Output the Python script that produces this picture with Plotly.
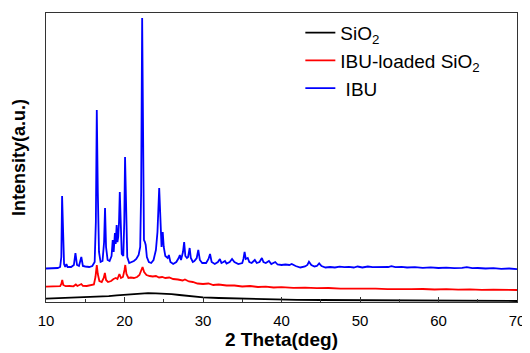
import plotly.graph_objects as go

# --- data (2 theta in degrees, intensity in arbitrary units) ---
ibu_xy = [
    (10.0, 33.5), (10.5, 33.8), (11.0, 33.4), (11.5, 34), (11.8, 35), (11.95, 45), (12.05, 106),
    (12.15, 70), (12.3, 38), (12.45, 35), (12.6, 38), (12.75, 35), (13.2, 35), (13.55, 37),
    (13.75, 49), (13.95, 37), (14.2, 36), (14.5, 45), (14.7, 36), (15.0, 35.5), (15.5, 35),
    (15.9, 36), (16.2, 40), (16.35, 80), (16.47, 192), (16.6, 110), (16.75, 50), (16.95, 40),
    (17.2, 41), (17.4, 60), (17.52, 94), (17.65, 55), (17.85, 42), (18.1, 41), (18.35, 46),
    (18.5, 62), (18.62, 50), (18.78, 69), (18.88, 58), (19.0, 77), (19.1, 60), (19.2, 65),
    (19.3, 80), (19.4, 110), (19.52, 70), (19.65, 48), (19.85, 46), (19.97, 80), (20.07, 145),
    (20.2, 75), (20.35, 45), (20.6, 39), (20.9, 40), (21.2, 41), (21.5, 43), (21.8, 47),
    (22.0, 55), (22.12, 110), (22.25, 284), (22.37, 140), (22.48, 62), (22.6, 60), (22.7, 57),
    (22.85, 45), (23.1, 40), (23.4, 39), (23.7, 42), (24.0, 52), (24.2, 70), (24.42, 114),
    (24.58, 75), (24.72, 55), (24.87, 70), (25.0, 55), (25.2, 46), (25.5, 44), (25.65, 47),
    (25.85, 40), (26.2, 38), (26.6, 40), (26.9, 44), (27.05, 47), (27.2, 42), (27.45, 50),
    (27.6, 60), (27.75, 46), (27.95, 44), (28.1, 45), (28.3, 54), (28.45, 44), (28.7, 40),
    (28.9, 41), (29.2, 44), (29.4, 52), (29.6, 42), (29.9, 39), (30.4, 39), (30.7, 43),
    (30.9, 48), (31.1, 40), (31.5, 38), (31.9, 40), (32.15, 43), (32.35, 39), (32.6, 40),
    (32.8, 41), (33.0, 38.5), (33.4, 40), (33.7, 43), (34.0, 40), (34.5, 38), (35.0, 39),
    (35.15, 43), (35.3, 50), (35.45, 43), (35.7, 44), (35.9, 40), (36.2, 39), (36.6, 42),
    (36.85, 39), (37.2, 40), (37.5, 44), (37.7, 40), (38.0, 39), (38.4, 41), (38.7, 38),
    (39.2, 40), (39.5, 37.5), (40.0, 37), (40.5, 37.5), (41.0, 37), (41.3, 38), (41.8, 36),
    (42.4, 34.5), (43.0, 35.5), (43.3, 37), (43.5, 40.3), (43.8, 37), (44.2, 35.5), (44.5, 36),
    (44.8, 38.7), (45.1, 36), (45.6, 34.5), (46.2, 35), (46.8, 34.5), (47.4, 35.3), (48.0, 34.8),
    (48.6, 35.2), (49.2, 34.5), (49.7, 35.5), (50.3, 34.5), (51.0, 35.5), (51.6, 34.8),
    (52.3, 35), (53.0, 34.5), (53.6, 35), (54.0, 35.8), (54.5, 34.8), (55.3, 35.2), (56.0, 34.5),
    (57.0, 34.8), (58.0, 34.2), (59.0, 34.6), (60.0, 34), (61.0, 34.3), (62.0, 33.8), (63.0, 34.2),
    (63.6, 34.8), (64.3, 33.8), (65.0, 34), (66.0, 33.5), (67.0, 33.8), (68.0, 33.2), (69.0, 33.5),
    (70.0, 32.8),
]

loaded_xy = [
    (10.0, 15.3), (10.6, 15.6), (11.2, 15.2), (11.8, 15.8), (11.95, 18), (12.07, 22), (12.2, 17),
    (12.5, 15.8), (13.0, 16), (13.5, 15.7), (13.8, 17.5), (14.0, 16), (14.5, 18), (14.7, 16.2),
    (15.2, 16), (15.7, 16.5), (16.1, 17.5), (16.3, 25), (16.47, 37), (16.6, 28), (16.8, 21),
    (17.1, 20), (17.35, 24), (17.5, 29), (17.65, 22), (17.9, 20), (18.3, 21), (18.6, 23),
    (18.9, 24), (19.1, 23), (19.35, 28), (19.55, 24), (19.8, 25), (20.0, 32), (20.1, 37),
    (20.25, 28), (20.5, 24), (20.8, 24.5), (21.2, 24), (21.6, 25), (21.9, 27), (22.15, 32),
    (22.3, 35), (22.5, 30), (22.8, 27), (23.2, 26), (23.6, 25.5), (24.0, 26), (24.4, 24.5),
    (24.8, 25), (25.2, 24), (25.7, 24.5), (26.2, 23), (26.8, 22.5), (27.4, 21.5), (27.7, 22.5),
    (28.2, 20.5), (28.7, 20), (29.3, 18.5), (30.0, 18), (30.7, 18.5), (31.3, 17), (32.0, 17.5),
    (33.0, 16.5), (34.0, 16.5), (35.0, 15.5), (36.0, 16), (37.0, 15), (38.0, 15.3), (39.0, 14.5),
    (40.0, 14.8), (41.5, 14.2), (43.0, 14.4), (44.5, 13.8), (46.0, 14), (47.5, 13.4), (49.0, 13.6),
    (50.5, 13.2), (52.0, 13.4), (53.5, 12.9), (55.0, 13.2), (56.5, 12.8), (58.0, 13), (59.5, 12.5),
    (61.0, 12.8), (62.5, 12.3), (64.0, 12.7), (65.5, 12.1), (67.0, 12.4), (68.5, 11.9), (70.0, 12),
]

sio2_xy = [
    (10, 3.3), (11, 3.6), (12, 3.4), (13, 3.8), (14, 3.9), (15, 4.3), (16, 4.6), (17, 5.2),
    (18, 5.8), (19, 6.6), (20, 7.2), (21, 8), (22, 8.6), (23, 8.8), (24, 8.7), (25, 8.4),
    (26, 7.8), (27, 7), (28, 6.2), (29, 5.3), (30, 4.7), (32, 4), (34, 3.5), (36, 3.2),
    (38, 2.8), (40, 2.4), (42, 2.1), (45, 2), (50, 1.7), (55, 1.5), (60, 1.3), (65, 1.1), (70, 1),
]

series_names = ["SiO<sub>2</sub>", "IBU-loaded SiO<sub>2</sub>", "\u00a0IBU"]
x_ticks = [10, 20, 30, 40, 50, 60, 70]

FONT = "Liberation Sans, Arial, sans-serif"
colors = ["#000000", "#ff0000", "#0000ff"]

fig = go.Figure()
for name, pts, col in zip(series_names, [sio2_xy, loaded_xy, ibu_xy], colors):
    fig.add_trace(go.Scatter(x=[p[0] for p in pts], y=[p[1] for p in pts], mode="lines",
                             name=name, line=dict(color=col, width=1.8)))

# The page body adds an 8px offset, so the figure is 8px smaller than the window.
fig.update_layout(
    width=522, height=345,
    margin=dict(l=38, r=13, t=5, b=51, autoexpand=False),
    paper_bgcolor="white", plot_bgcolor="white",
    font=dict(family=FONT, size=15, color="#000000"),
    showlegend=True,
    legend=dict(x=0.54, y=0.997, xanchor="left", yanchor="top",
                bgcolor="rgba(0,0,0,0)", font=dict(size=19), tracegroupgap=0),
    xaxis=dict(range=[10, 70], tickvals=x_ticks, ticktext=[str(v) for v in x_ticks],
               ticks="inside", ticklen=5, tickwidth=1.2, tickcolor="#333",
               minor=dict(dtick=5, ticks="inside", ticklen=3, tickcolor="#333"),
               showline=True, linecolor="#333", linewidth=1.4, mirror=True,
               showgrid=False, zeroline=False, automargin=False,
               tickfont=dict(size=15), ticklabelstandoff=5,
               title=dict(text="<b>2 Theta(deg)</b>", font=dict(size=19), standoff=4)),
    yaxis=dict(range=[0, 289], showticklabels=False, ticks="",
               showline=True, linecolor="#333", linewidth=1.4, mirror=True,
               showgrid=False, zeroline=False, automargin=False,
               title=dict(text="<b>Intensity(a.u.)</b>", font=dict(size=18), standoff=14)),
)

fig.write_html("out.html")
